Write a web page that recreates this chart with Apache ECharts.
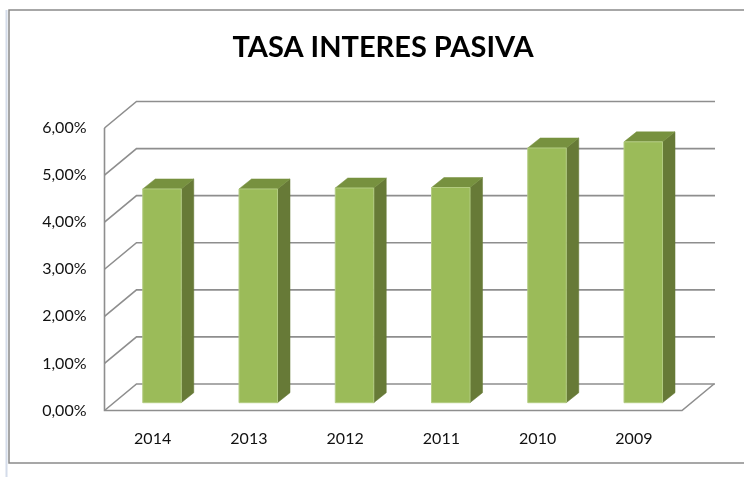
<!DOCTYPE html>
<html>
<head>
<meta charset="utf-8">
<script src="https://cdn.jsdelivr.net/npm/echarts@6/dist/echarts.min.js"></script>
<style>
html,body{margin:0;padding:0;background:#fff;}
#chart{width:744px;height:477px;}
</style>
</head>
<body>
<div id="chart"></div>
<script>
var title = 'TASA INTERES PASIVA';
var categories = ['2014', '2013', '2012', '2011', '2010', '2009'];
var values = [0.0454, 0.0454, 0.0456, 0.0457, 0.0541, 0.0554];
var yTicks = [0, 0.01, 0.02, 0.03, 0.04, 0.05, 0.06];

var WALL_DX = 32, WALL_DY = -26.5;   // depth of the 3D box
var BAR_OX = 9.4, BAR_OY = -7.8;     // bar placement within depth
var BAR_DX = 12.5, BAR_DY = -10;     // bar thickness
var GRID_COLOR = '#8e8e8e';

function fmt(v) { return (v * 100).toFixed(2).replace('.', ',') + '%'; }

var chart = echarts.init(document.getElementById('chart'), null, {renderer: 'canvas'});

var option = {
  animation: false,
  backgroundColor: '#ffffff',
  title: {
    text: title,
    left: 378,
    top: 28,
    textAlign: 'center',
    textStyle: {fontFamily: 'Lato', fontWeight: 'bold', fontSize: 29, color: '#000'}
  },
  grid: {left: 104.5, right: 62, top: 128, bottom: 66.5, containLabel: false},
  xAxis: {
    type: 'category',
    data: categories,
    axisLine: {show: false},
    axisTick: {show: false},
    axisLabel: {margin: 20, fontFamily: 'Lato', fontSize: 16, color: '#111'}
  },
  yAxis: {
    type: 'value',
    min: 0, max: 0.06, interval: 0.01,
    axisLine: {show: false},
    axisTick: {show: false},
    splitLine: {show: false},
    axisLabel: {margin: 18, fontFamily: 'Lato', fontSize: 16, color: '#111', formatter: fmt}
  },
  graphic: [
    {type: 'rect', shape: {x: 9, y: 10, width: 760, height: 453}, style: {fill: 'none', stroke: '#8a8a8a', lineWidth: 1.5}, z: 0},
    {type: 'line', shape: {x1: 6.5, y1: 10, x2: 6.5, y2: 477}, style: {stroke: '#d4dcea', lineWidth: 2}, z: 0}
  ],
  series: [
    {
      type: 'custom',
      name: 'walls',
      z: 1,
      silent: true,
      data: yTicks.map(function (t) { return [0, t]; }),
      renderItem: function (params, api) {
        var cs = params.coordSys;
        var x0 = cs.x, x1 = cs.x + cs.width;
        var v = api.value(1);
        var y = api.coord([0, v])[1];
        var children = [{
          type: 'polyline',
          shape: {points: [[x0, y], [x0 + WALL_DX, y + WALL_DY], [x1 + WALL_DX + 1, y + WALL_DY]]},
          style: {stroke: GRID_COLOR, lineWidth: 1.6, fill: null}
        }];
        if (v === 0) {
          var yTop = api.coord([0, yTicks[yTicks.length - 1]])[1];
          children.push({
            type: 'polyline',
            shape: {points: [[x0, yTop], [x0, y], [x1, y], [x1 + WALL_DX, y + WALL_DY]]},
            style: {stroke: GRID_COLOR, lineWidth: 1.6, fill: null}
          });
        }
        return {type: 'group', children: children};
      }
    },
    {
      type: 'custom',
      name: 'Tasa',
      z: 2,
      data: values.map(function (v, i) { return [i, v]; }),
      renderItem: function (params, api) {
        var i = api.value(0), v = api.value(1);
        var top = api.coord([i, v]);
        var base = api.coord([i, 0]);
        var w = api.size([1, 0])[0] * 0.4;
        var l = top[0] - w / 2 + BAR_OX, r = top[0] + w / 2 + BAR_OX;
        var yt = top[1] + BAR_OY, yb = base[1] + BAR_OY;
        return {
          type: 'group',
          children: [
            {type: 'polygon', shape: {points: [[r, yt], [r + BAR_DX, yt + BAR_DY], [r + BAR_DX, yb + BAR_DY], [r, yb]]},
             style: {fill: '#677a37', stroke: '#677a37', lineWidth: 0.5}},
            {type: 'polygon', shape: {points: [[l, yt], [l + BAR_DX, yt + BAR_DY], [r + BAR_DX, yt + BAR_DY], [r, yt]]},
             style: {fill: '#77913f', stroke: '#77913f', lineWidth: 0.5}},
            {type: 'rect', shape: {x: l, y: yt, width: w, height: yb - yt},
             style: {fill: '#9bbb59', stroke: '#b3cc82', lineWidth: 1}}
          ]
        };
      }
    }
  ]
};
chart.setOption(option);
</script>
</body>
</html>
